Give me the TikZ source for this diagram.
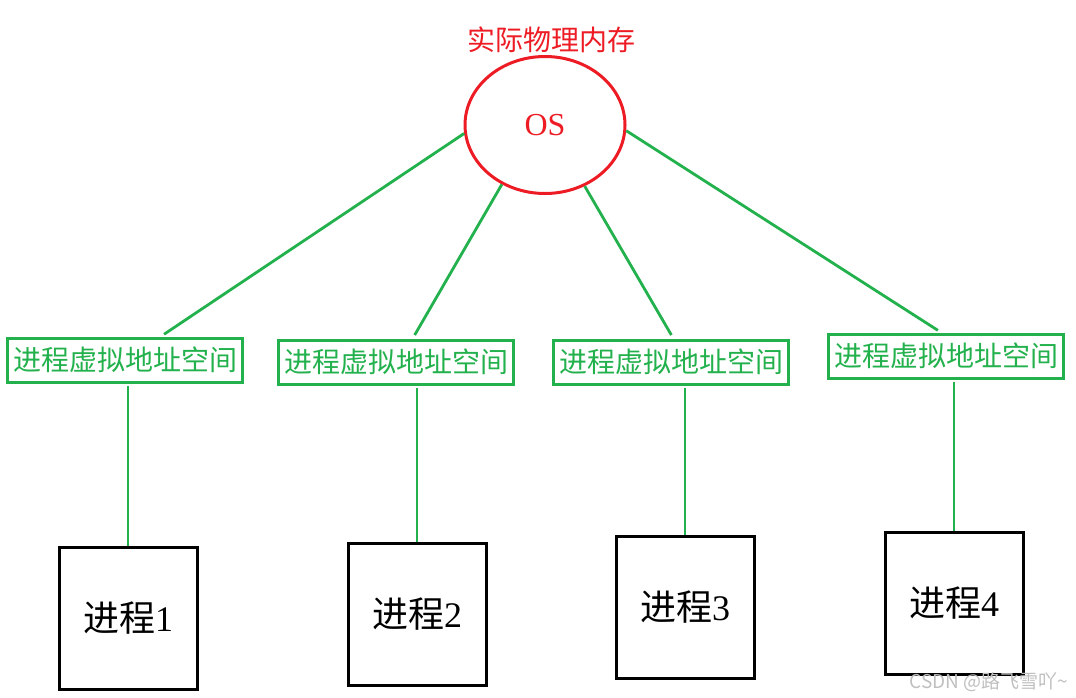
\documentclass[tikz,border=0pt]{standalone}
\usepackage{fontspec}
\setmainfont{Liberation Serif}
\newfontfamily\cjk{Noto Sans CJK SC}
\usepackage{xcolor}
\usepackage{tikz}
\usetikzlibrary{shapes.geometric,calc}
\definecolor{paintgreen}{RGB}{34,177,76}
\definecolor{paintred}{RGB}{237,28,36}
\tikzset{
  osnode/.style={ellipse, draw=paintred, line width=3pt, minimum width=160pt, minimum height=137pt, inner sep=0pt, text=paintred, font=\fontsize{32}{36}\selectfont},
  vasbox/.style={draw=paintgreen, line width=3pt, minimum width=235pt, minimum height=44pt, inner sep=0pt, text=paintgreen, font=\cjk\fontsize{28}{30}\selectfont},
  procbox/.style={draw, line width=3pt, minimum width=138pt, minimum height=142pt, inner sep=0pt, font=\fontsize{36}{40}\selectfont},
  link/.style={paintgreen, line width=2.8pt}
}

\begin{document}
\begin{tikzpicture}[x=1pt, y=-1pt]
        \useasboundingbox (0,0) rectangle (1076,697);
        \node[text=paintred, font=\cjk\fontsize{28}{30}\selectfont] (mem) at (551,40) {实际物理内存};
        \node[osnode] (os) at (545,125) {OS};
        \node[vasbox] (vas1) at (125,360) {进程虚拟地址空间};
        \node[vasbox] (vas2) at (396,362) {进程虚拟地址空间};
        \node[vasbox] (vas3) at (671,362) {进程虚拟地址空间};
        \node[vasbox] (vas4) at (946,356) {进程虚拟地址空间};
        \node[procbox] (proc1) at (128,618) {{\cjk 进程}1};
        \node[procbox] (proc2) at (417,614) {{\cjk 进程}2};
        \node[procbox] (proc3) at (685,607) {{\cjk 进程}3};
        \node[procbox] (proc4) at (954,603) {{\cjk 进程}4};
        % os to the address spaces
        \draw[link, shorten >=4pt] (os.186) -- ($(vas1.north west)!0.65!(vas1.north east)$);
        \draw[link, shorten >=4pt] (os.234) -- ($(vas2.north west)!0.57!(vas2.north east)$);
        \draw[link, shorten >=4pt] (os.303) -- ($(vas3.north west)!0.51!(vas3.north east)$);
        \draw[link, shorten >=4pt] (os.356) -- ($(vas4.north west)!0.48!(vas4.north east)$);
        % address spaces to the processes
        \draw[link, shorten <=2pt] (vas1.south -| proc1.north) -- (proc1.north);
        \draw[link, shorten <=2pt] (vas2.south -| proc2.north) -- (proc2.north);
        \draw[link, shorten <=2pt] (vas3.south -| proc3.north) -- (proc3.north);
        \draw[link, shorten <=2pt] (vas4.south -| proc4.north) -- (proc4.north);
        \node[text=black!25, font=\cjk\fontsize{19}{22}\selectfont, anchor=south east] (mark) at (1072,695) {CSDN @路飞雪吖\textasciitilde};
      \end{tikzpicture}
\end{document}
